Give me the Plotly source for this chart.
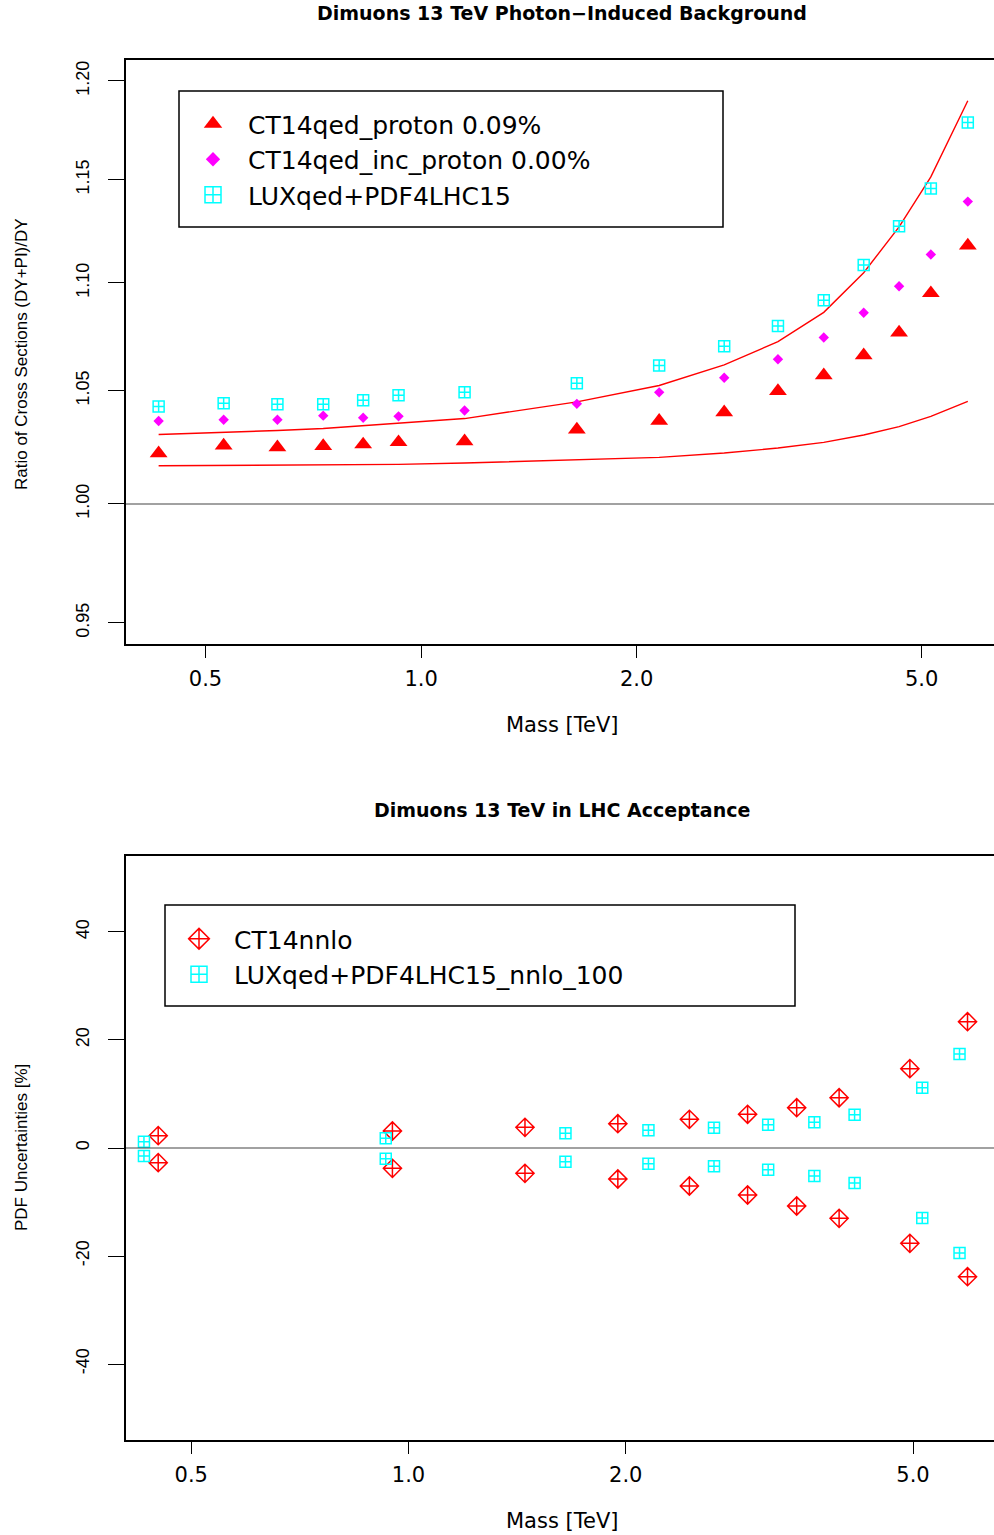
import plotly.graph_objects as go

W, H = 994, 1535

# ---------------- data: top panel (ratio of cross sections) ----------------
mass_top = [0.43, 0.53, 0.63, 0.73, 0.83, 0.93, 1.15, 1.65, 2.15, 2.65,
            3.15, 3.65, 4.15, 4.65, 5.15, 5.8]
ct14qed_proton = [1.0221, 1.0255, 1.0247, 1.0253, 1.0260, 1.0270, 1.0274, 1.0326,
                  1.0365, 1.0403, 1.0499, 1.0570, 1.0662, 1.0767, 1.0951, 1.1178]
ct14qed_inc_proton = [1.0364, 1.0370, 1.0370, 1.0388, 1.0379, 1.0385, 1.0411, 1.0441,
                      1.0493, 1.0559, 1.0644, 1.0744, 1.0859, 1.0984, 1.1135, 1.1392]
luxqed_pdf4lhc15 = [1.0429, 1.0444, 1.0439, 1.0439, 1.0457, 1.0480, 1.0493, 1.0534,
                    1.0615, 1.0704, 1.0797, 1.0918, 1.1085, 1.1272, 1.1457, 1.1787]
band_upper = [1.0304, 1.0313, 1.0322, 1.0331, 1.0343, 1.0353, 1.0375, 1.0450,
              1.0524, 1.0618, 1.0725, 1.0861, 1.1048, 1.1269, 1.1514, 1.1898]
band_lower = [1.0166, 1.0167, 1.0168, 1.0169, 1.0170, 1.0172, 1.0178, 1.0191,
              1.0203, 1.0222, 1.0244, 1.0269, 1.0302, 1.0339, 1.0385, 1.0452]

# ---------------- data: bottom panel (PDF uncertainties, %) ----------------
mass_ct14 = [0.45, 0.95, 1.45, 1.95, 2.45, 2.95, 3.45, 3.95, 4.95, 5.95]
ct14nnlo_up = [2.28, 3.15, 3.83, 4.50, 5.31, 6.24, 7.46, 9.31, 14.69, 23.39]
ct14nnlo_dn = [-2.72, -3.76, -4.69, -5.74, -7.04, -8.70, -10.74, -13.02, -17.65, -23.83]
mass_lux = [0.43, 0.93, 1.65, 2.15, 2.65, 3.15, 3.65, 4.15, 5.15, 5.8]
lux_up = [1.17, 1.80, 2.72, 3.28, 3.76, 4.31, 4.76, 6.17, 11.17, 17.41]
lux_dn = [-1.48, -1.98, -2.54, -2.91, -3.39, -4.02, -5.19, -6.48, -12.96, -19.44]

x_ticks = [0.5, 1.0, 2.0, 5.0]
x_ticktext = ["0.5", "1.0", "2.0", "5.0"]
y_top_ticks = [0.95, 1.00, 1.05, 1.10, 1.15, 1.20]
y_top_ticktext = ["0.95", "1.00", "1.05", "1.10", "1.15", "1.20"]
y_bot_ticks = [-40, -20, 0, 20, 40]
y_bot_ticktext = ["-40", "-20", "0", "20", "40"]

RED = "#FF0000"
MAG = "#FF00FF"
CYAN = "#00FFFF"
HFONT = "DejaVu Sans"
VFONT = "Liberation Sans, Arial, sans-serif"


def px(x):
    return x / W


def py(y):
    return 1 - y / H


fig = go.Figure()

# top panel curves
fig.add_trace(go.Scatter(x=mass_top, y=band_upper, mode="lines", line=dict(color=RED, width=1.4),
                         showlegend=False, xaxis="x", yaxis="y", hoverinfo="skip"))
fig.add_trace(go.Scatter(x=mass_top, y=band_lower, mode="lines", line=dict(color=RED, width=1.4),
                         showlegend=False, xaxis="x", yaxis="y", hoverinfo="skip"))
# top panel points
fig.add_trace(go.Scatter(x=mass_top, y=ct14qed_proton, mode="markers", name="CT14qed_proton 0.09%",
                         marker=dict(symbol="triangle-up", size=15.5, color=RED, line=dict(width=0)),
                         showlegend=False, xaxis="x", yaxis="y"))
fig.add_trace(go.Scatter(x=mass_top, y=ct14qed_inc_proton, mode="markers", name="CT14qed_inc_proton 0.00%",
                         marker=dict(symbol="diamond", size=8, color=MAG, line=dict(width=0)),
                         showlegend=False, xaxis="x", yaxis="y"))
fig.add_trace(go.Scatter(x=mass_top, y=luxqed_pdf4lhc15, mode="markers", name="LUXqed+PDF4LHC15",
                         marker=dict(symbol="square-cross-open", size=11, color=CYAN, line=dict(width=1.5)),
                         showlegend=False, xaxis="x", yaxis="y"))
# top legend entries (larger symbols, like the reference legend)
fig.add_trace(go.Scatter(x=[None], y=[None], mode="markers", name="CT14qed_proton 0.09%",
                         marker=dict(symbol="triangle-up", size=16, color=RED, line=dict(width=0)),
                         legend="legend", xaxis="x", yaxis="y"))
fig.add_trace(go.Scatter(x=[None], y=[None], mode="markers", name="CT14qed_inc_proton 0.00%",
                         marker=dict(symbol="diamond", size=11, color=MAG, line=dict(width=0)),
                         legend="legend", xaxis="x", yaxis="y"))
fig.add_trace(go.Scatter(x=[None], y=[None], mode="markers", name="LUXqed+PDF4LHC15",
                         marker=dict(symbol="square-cross-open", size=16, color=CYAN, line=dict(width=1.5)),
                         legend="legend", xaxis="x", yaxis="y"))

# bottom panel points
fig.add_trace(go.Scatter(x=mass_ct14 + mass_ct14, y=ct14nnlo_up + ct14nnlo_dn, mode="markers",
                         name="CT14nnlo",
                         marker=dict(symbol="diamond-cross-open", size=14, color=RED, line=dict(width=1.5)),
                         showlegend=False, xaxis="x2", yaxis="y2"))
fig.add_trace(go.Scatter(x=mass_lux + mass_lux, y=lux_up + lux_dn, mode="markers",
                         name="LUXqed+PDF4LHC15_nnlo_100",
                         marker=dict(symbol="square-cross-open", size=11, color=CYAN, line=dict(width=1.5)),
                         showlegend=False, xaxis="x2", yaxis="y2"))
fig.add_trace(go.Scatter(x=[None], y=[None], mode="markers", name="CT14nnlo",
                         marker=dict(symbol="diamond-cross-open", size=16, color=RED, line=dict(width=1.5)),
                         legend="legend2", xaxis="x2", yaxis="y2"))
fig.add_trace(go.Scatter(x=[None], y=[None], mode="markers", name="LUXqed+PDF4LHC15_nnlo_100",
                         marker=dict(symbol="square-cross-open", size=16, color=CYAN, line=dict(width=1.5)),
                         legend="legend2", xaxis="x2", yaxis="y2"))

xdom = [126 / W, 1.0]
common_x = dict(type="log", showline=True, mirror=True, linecolor="black", linewidth=1.5,
                ticks="outside", ticklen=12, tickwidth=1, tickcolor="black",
                tickvals=x_ticks, ticktext=x_ticktext, showgrid=False, zeroline=False,
                tickfont=dict(family=HFONT, size=21, color="black"), ticklabelstandoff=3,
                domain=xdom, automargin=False)
common_y = dict(showline=True, mirror=False, linecolor="black", linewidth=1.5,
                ticks="outside", ticklen=16, tickwidth=1, tickcolor="black", tickangle=-90,
                showgrid=False, zeroline=False,
                tickfont=dict(family=VFONT, size=18, color="black"), ticklabelstandoff=12,
                automargin=False)

fig.update_layout(
    width=W, height=H, margin=dict(l=0, r=0, t=0, b=0),
    paper_bgcolor="white", plot_bgcolor="white",
    xaxis=dict(common_x, range=[-0.4121, 0.8000], anchor="y"),
    yaxis=dict(common_y, type="log", range=[-0.02621, 0.08311], domain=[py(644), py(60)],
               tickvals=y_top_ticks, ticktext=y_top_ticktext, anchor="x"),
    xaxis2=dict(common_x, range=[-0.3914, 0.8112], anchor="y2"),
    yaxis2=dict(common_y, type="linear", range=[-54.07, 54.07], domain=[py(1440), py(856)],
                tickvals=y_bot_ticks, ticktext=y_bot_ticktext, anchor="x2"),
    legend=dict(x=px(178), y=py(101), xanchor="left", yanchor="top", bgcolor="rgba(0,0,0,0)",
                borderwidth=0, itemwidth=60, font=dict(family=HFONT, size=25, color="black"),
                tracegroupgap=0),
    legend2=dict(x=px(164), y=py(916), xanchor="left", yanchor="top", bgcolor="rgba(0,0,0,0)",
                 borderwidth=0, itemwidth=60, font=dict(family=HFONT, size=25, color="black"),
                 tracegroupgap=0),
    showlegend=True,
)

# reference lines
fig.add_shape(type="line", xref="x domain", yref="y", x0=0, x1=1, y0=1.0, y1=1.0,
              line=dict(color="#444444", width=1.2))
fig.add_shape(type="line", xref="x2 domain", yref="y2", x0=0, x1=1, y0=0, y1=0,
              line=dict(color="#444444", width=1.2))
# legend boxes
fig.add_shape(type="rect", xref="paper", yref="paper", x0=px(179), x1=px(723), y0=py(227), y1=py(91),
              line=dict(color="black", width=1.5))
fig.add_shape(type="rect", xref="paper", yref="paper", x0=px(165), x1=px(795), y0=py(1006), y1=py(905),
              line=dict(color="black", width=1.5))

ann = []
ann.append(dict(text="<b>Dimuons 13 TeV Photon\u2212Induced Background</b>", x=px(562), y=py(13),
                font=dict(family=HFONT, size=19, color="black")))
ann.append(dict(text="<b>Dimuons 13 TeV in LHC Acceptance</b>", x=px(562), y=py(810),
                font=dict(family=HFONT, size=19, color="black")))
ann.append(dict(text="Mass [TeV]", x=px(562), y=py(725), font=dict(family=HFONT, size=21, color="black")))
ann.append(dict(text="Mass [TeV]", x=px(562), y=py(1521), font=dict(family=HFONT, size=21, color="black")))
ann.append(dict(text="Ratio of Cross Sections (DY+PI)/DY", x=px(21), y=py(354), textangle=-90,
                font=dict(family=VFONT, size=17, color="black")))
ann.append(dict(text="PDF Uncertainties [%]", x=px(21), y=py(1148), textangle=-90,
                font=dict(family=VFONT, size=17, color="black")))
for a in ann:
    a.update(xref="paper", yref="paper", showarrow=False, xanchor="center", yanchor="middle")
fig.update_layout(annotations=ann)

fig.write_html("out.html", config={"displayModeBar": False},
               post_script="document.body.style.margin='0';document.body.style.overflow='hidden';")
